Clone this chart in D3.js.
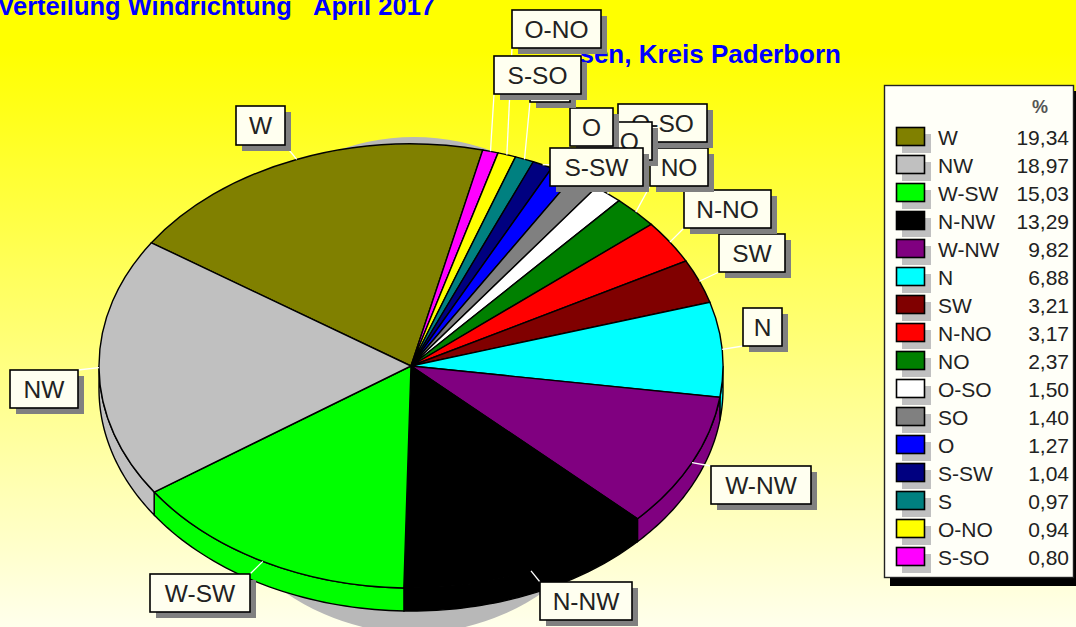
<!DOCTYPE html>
<html>
<head>
<meta charset="utf-8">
<title>Verteilung Windrichtung April 2017</title>
<script src="https://cdn.jsdelivr.net/npm/d3@7"></script>
<style>
  html, body { margin: 0; padding: 0; background: #fff; }
  svg { display: block; font-family: "Liberation Sans", Arial, sans-serif; }
</style>
</head>
<body>
<div id="chart"></div>
<script>
// legend order
var directions = ["W", "NW", "W-SW", "N-NW", "W-NW", "N", "SW", "N-NO", "NO", "O-SO", "SO", "O", "S-SW", "S", "O-NO", "S-SO"];
var percents = [19.34, 18.97, 15.03, 13.29, 9.82, 6.88, 3.21, 3.17, 2.37, 1.50, 1.40, 1.27, 1.04, 0.97, 0.94, 0.80];
var percentLabels = ["19,34", "18,97", "15,03", "13,29", "9,82", "6,88", "3,21", "3,17", "2,37", "1,50", "1,40", "1,27", "1,04", "0,97", "0,94", "0,80"];
var colors = ["#808000", "#c0c0c0", "#00ff00", "#000000", "#800080", "#00ffff", "#800000", "#ff0000", "#008000", "#ffffff", "#808080", "#0000ff", "#000080", "#008080", "#ffff00", "#ff00ff"];
// going clockwise the pie shows W first, then the rest of the legend backwards
var pieOrder = [0, 15, 14, 13, 12, 11, 10, 9, 8, 7, 6, 5, 4, 3, 2, 1];
// x, y, w, h of the callouts, same order as directions
var labelBoxes = [
  [236, 106, 49, 39], [10, 370, 68, 38], [150, 574, 100, 38], [540, 582, 92, 38],
  [711, 466, 100, 38], [743, 308, 39, 38], [719, 234, 66, 38], [684, 190, 87, 38],
  [650, 148, 58, 38], [618, 104, 89, 38], [590, 122, 62, 38], [570, 108, 43, 38],
  [550, 148, 93, 38], [530, 64, 40, 38], [512, 10, 89, 38], [494, 56, 87, 38]
];

var width = 1076, height = 627;
var cx = 411, cy = 366, rx = 312, ry = 222, depth = 23;
var startDeg = -56.3;

var svg = d3.select("#chart").append("svg")
  .attr("width", width)
  .attr("height", height);

var grad = svg.append("defs").append("linearGradient")
  .attr("id", "bg")
  .attr("x1", 0).attr("y1", 0).attr("x2", 0).attr("y2", 1);
grad.append("stop").attr("offset", "8%").attr("stop-color", "#ffff00");
grad.append("stop").attr("offset", "100%").attr("stop-color", "#ffffec");

svg.append("rect")
  .attr("width", width)
  .attr("height", height)
  .attr("fill", "url(#bg)");

// titles, the start of the second one is not readable under the callouts
svg.append("text")
  .attr("x", 435).attr("y", 15)
  .attr("text-anchor", "end")
  .attr("font-size", 25.5).attr("font-weight", "bold").attr("fill", "#0000ff")
  .text("Verteilung Windrichtung\u00a0\u00a0\u00a0April 2017");
svg.append("text")
  .attr("x", 841).attr("y", 63)
  .attr("text-anchor", "end")
  .attr("font-size", 26).attr("font-weight", "bold").attr("fill", "#0000ff")
  .text("sen, Kreis Paderborn");

// scales from unit circle to the flattened pie
var xPie = d3.scaleLinear().domain([-1, 1]).range([cx - rx, cx + rx]);
var yPie = d3.scaleLinear().domain([-1, 1]).range([cy - ry, cy + ry]);

function rimPoint(angle, drop) {
  return [xPie(Math.sin(angle)), yPie(-Math.cos(angle)) + drop];
}

var pie = d3.pie()
  .sort(null)
  .value(function(i) { return percents[i]; })
  .startAngle(startDeg * Math.PI / 180)
  .endAngle((startDeg + 360) * Math.PI / 180);
var slices = pie(pieOrder);

// drop shadow behind the pie
svg.append("ellipse")
  .attr("cx", 414).attr("cy", 385)
  .attr("rx", 235).attr("ry", 248)
  .attr("fill", "#b8b8b8");

// outer wall, only on the front half
var wallLine = d3.line();
svg.append("g").selectAll("path")
  .data(slices.filter(function(d) {
    var a = d.startAngle, b = d.endAngle;
    return b > Math.PI / 2 && a < 3 * Math.PI / 2;
  }))
  .enter().append("path")
  .attr("d", function(d) {
    var a = Math.max(d.startAngle, Math.PI / 2);
    var b = Math.min(d.endAngle, 3 * Math.PI / 2);
    var steps = d3.range(0, 41).map(function(k) { return a + (b - a) * k / 40; });
    var top = steps.map(function(t) { return rimPoint(t, 0); });
    var bottom = steps.slice().reverse().map(function(t) { return rimPoint(t, depth); });
    return wallLine(top.concat(bottom)) + "Z";
  })
  .attr("fill", function(d) { return colors[d.data]; })
  .attr("stroke", "#000")
  .attr("stroke-width", 1.4);

// top face
var arc = d3.arc().innerRadius(0).outerRadius(1);
svg.append("g")
  .attr("transform", "translate(" + cx + "," + cy + ") scale(" + rx + "," + ry + ")")
  .selectAll("path")
  .data(slices)
  .enter().append("path")
  .attr("d", arc)
  .attr("fill", function(d) { return colors[d.data]; })
  .attr("stroke", "#000")
  .attr("stroke-width", 1.4)
  .attr("vector-effect", "non-scaling-stroke");

// leader lines run from the rim to the closest point of the callout
svg.append("g").selectAll("line")
  .data(slices)
  .enter().append("line")
  .each(function(d) {
    var p = rimPoint((d.startAngle + d.endAngle) / 2, 0);
    var b = labelBoxes[d.data];
    d3.select(this)
      .attr("x1", p[0]).attr("y1", p[1])
      .attr("x2", Math.max(b[0], Math.min(b[0] + b[2], p[0])))
      .attr("y2", Math.max(b[1], Math.min(b[1] + b[3], p[1])));
  })
  .attr("stroke", "#fff")
  .attr("stroke-width", 1.3);

// callouts, later ones sit on top of earlier ones
var callout = svg.append("g").selectAll("g")
  .data(directions)
  .enter().append("g")
  .attr("transform", function(d, i) { return "translate(" + labelBoxes[i][0] + "," + labelBoxes[i][1] + ")"; });
callout.append("rect")
  .attr("x", 6).attr("y", 6)
  .attr("width", function(d, i) { return labelBoxes[i][2]; })
  .attr("height", function(d, i) { return labelBoxes[i][3]; })
  .attr("fill", "#808080");
callout.append("rect")
  .attr("width", function(d, i) { return labelBoxes[i][2]; })
  .attr("height", function(d, i) { return labelBoxes[i][3]; })
  .attr("fill", "#fffff0")
  .attr("stroke", "#000")
  .attr("stroke-width", 1.6);
callout.append("text")
  .attr("x", function(d, i) { return labelBoxes[i][2] / 2; })
  .attr("y", function(d, i) { return labelBoxes[i][3] / 2 + 8.5; })
  .attr("text-anchor", "middle")
  .attr("font-size", 24.5)
  .attr("fill", "#222")
  .text(function(d) { return d; });

// legend
var legend = svg.append("g");
legend.append("rect")
  .attr("x", 890).attr("y", 91).attr("width", 192).attr("height", 495)
  .attr("fill", "#000");
legend.append("rect")
  .attr("x", 884.5).attr("y", 85.5).attr("width", 189).attr("height", 492)
  .attr("fill", "#fffff8")
  .attr("stroke", "#222")
  .attr("stroke-width", 1.4);
legend.append("text")
  .attr("x", 1040).attr("y", 113)
  .attr("text-anchor", "middle")
  .attr("font-size", 18).attr("font-weight", "bold").attr("fill", "#555")
  .text("%");

var yRow = d3.scalePoint().domain(directions).range([137, 557]);

var row = legend.selectAll("g.row")
  .data(directions)
  .enter().append("g")
  .attr("class", "row")
  .attr("transform", function(d) { return "translate(0," + yRow(d) + ")"; });
row.append("rect")
  .attr("x", 902).attr("y", -3).attr("width", 29).attr("height", 19)
  .attr("fill", "#c0c0c0");
row.append("rect")
  .attr("x", 896.5).attr("y", -9.5).attr("width", 28).attr("height", 18)
  .attr("fill", function(d, i) { return colors[i]; })
  .attr("stroke", "#000")
  .attr("stroke-width", 1.6);
row.append("text")
  .attr("x", 938).attr("y", 7.5)
  .attr("font-size", 21).attr("fill", "#222")
  .text(function(d) { return d; });
row.append("text")
  .attr("x", 1069).attr("y", 7.5)
  .attr("text-anchor", "end")
  .attr("font-size", 21).attr("fill", "#222")
  .text(function(d, i) { return percentLabels[i]; });
</script>
</body>
</html>
